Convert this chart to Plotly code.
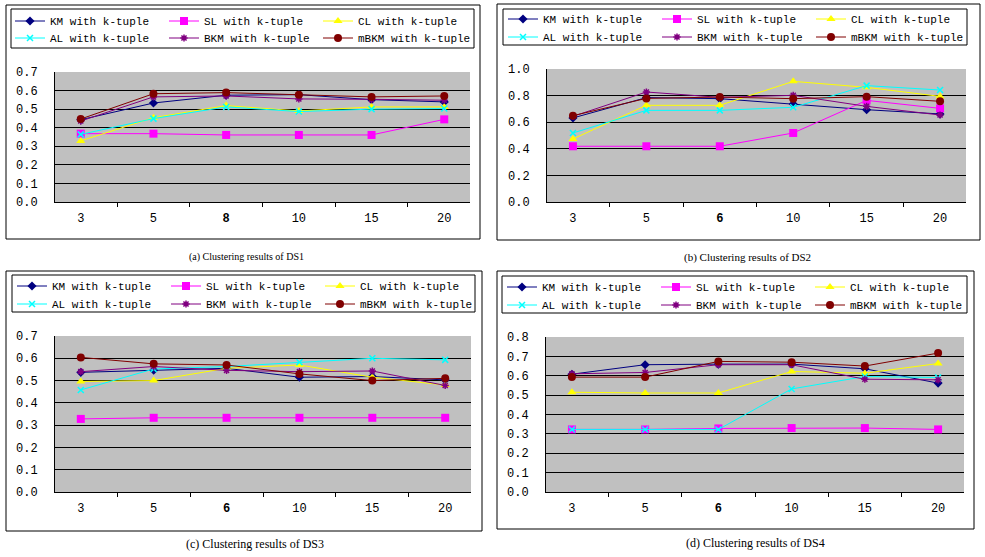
import plotly.graph_objects as go

W, H = 985, 557

series_names = ["KM with k-tuple", "SL with k-tuple", "CL with k-tuple",
                "AL with k-tuple", "BKM with k-tuple", "mBKM with k-tuple"]

cats_a = ["3", "5", "8", "10", "15", "20"]
cats_bcd = ["3", "5", "6", "10", "15", "20"]
ticktext_a = ["3", "5", "<b>8</b>", "10", "15", "20"]
ticktext_bcd = ["3", "5", "<b>6</b>", "10", "15", "20"]

# (a) DS1
ds1_km = [0.443, 0.533, 0.575, 0.578, 0.551, 0.539]
ds1_sl = [0.368, 0.368, 0.361, 0.361, 0.361, 0.445]
ds1_cl = [0.329, 0.454, 0.519, 0.490, 0.512, 0.512]
ds1_al = [0.364, 0.449, 0.512, 0.487, 0.500, 0.503]
ds1_bkm = [0.436, 0.566, 0.571, 0.555, 0.553, 0.548]
ds1_mbkm = [0.447, 0.583, 0.589, 0.578, 0.566, 0.571]

# (b) DS2
ds2_km = [0.632, 0.785, 0.777, 0.737, 0.694, 0.662]
ds2_sl = [0.419, 0.419, 0.419, 0.519, 0.764, 0.704]
ds2_cl = [0.474, 0.727, 0.727, 0.907, 0.862, 0.794]
ds2_al = [0.519, 0.689, 0.689, 0.712, 0.875, 0.842]
ds2_bkm = [0.644, 0.827, 0.787, 0.802, 0.719, 0.654]
ds2_mbkm = [0.649, 0.779, 0.789, 0.777, 0.792, 0.757]

# (c) DS3
ds3_km = [0.537, 0.546, 0.555, 0.515, 0.518, 0.503]
ds3_sl = [0.328, 0.333, 0.333, 0.333, 0.333, 0.333]
ds3_cl = [0.496, 0.500, 0.555, 0.570, 0.515, 0.480]
ds3_al = [0.458, 0.552, 0.563, 0.582, 0.600, 0.593]
ds3_bkm = [0.540, 0.563, 0.546, 0.540, 0.543, 0.478]
ds3_mbkm = [0.604, 0.575, 0.570, 0.530, 0.500, 0.510]

# (d) DS4
ds4_km = [0.608, 0.657, 0.660, 0.660, 0.636, 0.562]
ds4_sl = [0.323, 0.323, 0.328, 0.330, 0.330, 0.323]
ds4_cl = [0.515, 0.511, 0.511, 0.622, 0.613, 0.663]
ds4_al = [0.323, 0.323, 0.323, 0.532, 0.596, 0.591]
ds4_bkm = [0.610, 0.617, 0.657, 0.657, 0.582, 0.579]
ds4_mbkm = [0.593, 0.593, 0.674, 0.670, 0.650, 0.717]

captions = ["(a) Clustering results of DS1", "(b) Clustering results of DS2",
            "(c) Clustering results of DS3", "(d) Clustering results of DS4"]

panels = [
    dict(cats=cats_a, ticktext=ticktext_a,
         data=[ds1_km, ds1_sl, ds1_cl, ds1_al, ds1_bkm, ds1_mbkm],
         ymax=0.7, dtick=0.1),
    dict(cats=cats_bcd, ticktext=ticktext_bcd,
         data=[ds2_km, ds2_sl, ds2_cl, ds2_al, ds2_bkm, ds2_mbkm],
         ymax=1.0, dtick=0.2),
    dict(cats=cats_bcd, ticktext=ticktext_bcd,
         data=[ds3_km, ds3_sl, ds3_cl, ds3_al, ds3_bkm, ds3_mbkm],
         ymax=0.7, dtick=0.1),
    dict(cats=cats_bcd, ticktext=ticktext_bcd,
         data=[ds4_km, ds4_sl, ds4_cl, ds4_al, ds4_bkm, ds4_mbkm],
         ymax=0.8, dtick=0.1),
]

# ---- styling / layout (pixel geometry) ----
styles = [
    dict(color="#000080", symbol="diamond", size=7, lc=None),
    dict(color="#FF00FF", symbol="square", size=8, lc=None),
    dict(color="#FFFF00", symbol="triangle-up", size=8, lc=None),
    dict(color="#00FFFF", symbol="x-thin", size=6, lc="#00FFFF"),
    dict(color="#800080", symbol="asterisk", size=6, lc="#800080"),
    dict(color="#800000", symbol="circle", size=8, lc=None),
]

plot_px = [(55, 470, 72, 202), (547, 966, 69, 202), (55, 471, 336, 492), (546, 964, 337, 492)]
outer_px = [(6, 480, 5, 239), (497, 980, 4, 240), (6, 482, 271, 531), (497, 974, 271, 529)]
legbox_px = [(11, 474, 9, 48), (503, 967, 9, 45), (12, 475, 275, 312), (502, 967, 276, 313)]
legrows_px = [(10, (21, 38)), (503, (19, 37)), (12, (286, 304)), (502, (287, 305))]
caption_px = [(246, 257, 10), (747, 257, 11), (255, 544, 12), (755, 543, 12)]


def px(x):
    return x / W


def py(y):
    return 1 - y / H


fig = go.Figure()
layout = dict(width=W, height=H, margin=dict(l=0, r=0, t=0, b=0, autoexpand=False),
              paper_bgcolor="white", plot_bgcolor="#C0C0C0",
              showlegend=True, shapes=[], annotations=[])

mono = "Liberation Mono"
for p, panel in enumerate(panels):
    xa = "x" if p == 0 else f"x{p + 1}"
    ya = "y" if p == 0 else f"y{p + 1}"
    for i, (name, vals) in enumerate(zip(series_names, panel["data"])):
        st = styles[i]
        row = 0 if i < 3 else 1
        lidx = 2 * p + row + 1
        legname = "legend" if lidx == 1 else f"legend{lidx}"
        marker = dict(color=st["color"], symbol=st["symbol"], size=st["size"])
        if st["lc"]:
            marker["line"] = dict(color=st["lc"], width=1.5)
        fig.add_trace(go.Scatter(
            x=panel["cats"], y=vals, name=name, mode="lines+markers",
            line=dict(color=st["color"], width=1), marker=marker,
            xaxis=xa, yaxis=ya, legend=legname, showlegend=True))

    x0, x1, y0, y1 = plot_px[p]
    xk = "xaxis" if p == 0 else f"xaxis{p + 1}"
    yk = "yaxis" if p == 0 else f"yaxis{p + 1}"
    layout[xk] = dict(domain=[px(x0), px(x1)], anchor=ya, type="category",
                      categoryorder="array", categoryarray=panel["cats"],
                      tickvals=panel["cats"], ticktext=panel["ticktext"],
                      tickson="boundaries", ticks="outside", ticklen=4,
                      tickcolor="black", showline=True, linecolor="black",
                      linewidth=1, showgrid=False, zeroline=False,
                      ticklabelstandoff=5,
                      tickfont=dict(family=mono, size=12, color="black"),
                      fixedrange=True)
    layout[yk] = dict(domain=[py(y1), py(y0)], anchor=xa,
                      range=[0, panel["ymax"] + 1e-9], dtick=panel["dtick"],
                      tick0=0, tickformat=".1f", showline=True,
                      linecolor="black", linewidth=1, showgrid=True,
                      gridcolor="black", gridwidth=1, zeroline=False,
                      ticks="", ticklabelstandoff=14,
                      tickfont=dict(family=mono, size=12, color="black"),
                      fixedrange=True)

    # legends (one per row)
    lx, rows = legrows_px[p]
    for r, ry in enumerate(rows):
        lidx = 2 * p + r + 1
        lk = "legend" if lidx == 1 else f"legend{lidx}"
        layout[lk] = dict(orientation="h", x=px(lx), xanchor="left",
                          y=py(ry), yanchor="middle", bgcolor="rgba(0,0,0,0)",
                          borderwidth=0, itemwidth=30, entrywidth=109,
                          entrywidthmode="pixels", traceorder="normal",
                          font=dict(family=mono, size=11, color="black"),
                          itemclick=False, itemdoubleclick=False)

    ox0, ox1, oy0, oy1 = outer_px[p]
    layout["shapes"].append(dict(type="rect", xref="paper", yref="paper",
                                 x0=px(ox0), x1=px(ox1), y0=py(oy1), y1=py(oy0),
                                 line=dict(color="black", width=1), layer="below"))
    bx0, bx1, by0, by1 = legbox_px[p]
    layout["shapes"].append(dict(type="rect", xref="paper", yref="paper",
                                 x0=px(bx0), x1=px(bx1), y0=py(by1), y1=py(by0),
                                 line=dict(color="black", width=1), layer="below"))
    cx, cy, cs = caption_px[p]
    layout["annotations"].append(dict(text=captions[p], xref="paper", yref="paper",
                                      x=px(cx), y=py(cy), xanchor="center",
                                      yanchor="middle", showarrow=False,
                                      font=dict(family="Liberation Serif", size=cs,
                                                color="black")))

fig.update_layout(**layout)
fig.write_html("out.html", config={"displayModeBar": False},
               post_script="document.body.style.margin='0px';document.body.style.padding='0px';")
